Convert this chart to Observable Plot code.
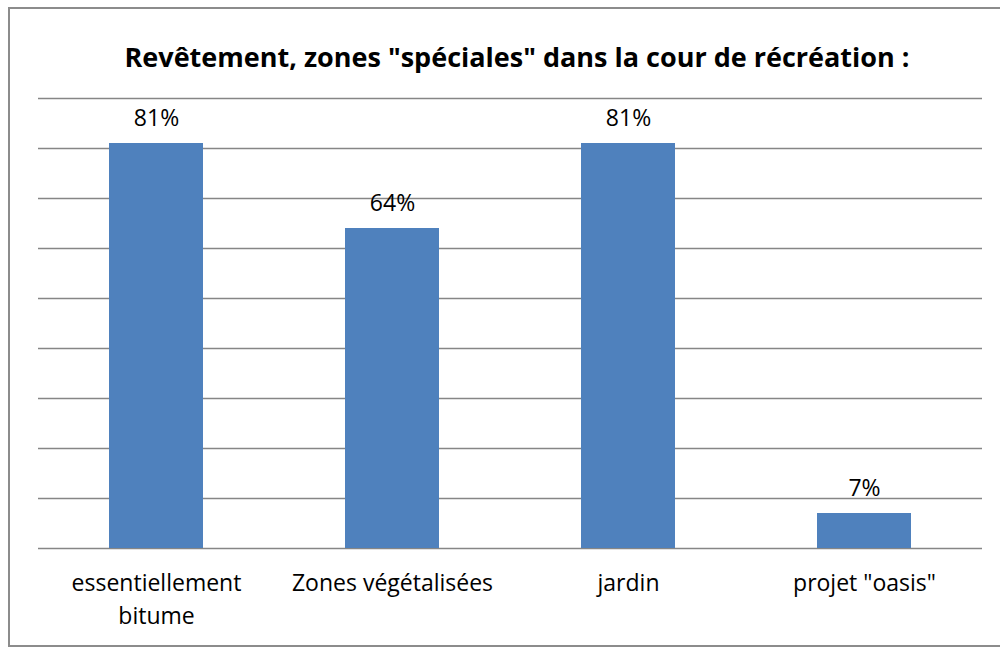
<!DOCTYPE html>
<html>
<head>
<meta charset="utf-8">
<script src="https://cdn.jsdelivr.net/npm/d3@7"></script>
<script src="https://cdn.jsdelivr.net/npm/@observablehq/plot@0.6"></script>
<style>
  html, body { margin: 0; padding: 0; background: #fff; }
  #wrap { position: relative; width: 1000px; height: 649px; overflow: hidden; font-family: "Open Sans", Lato, sans-serif; }
  #frame { position: absolute; left: 8px; top: 7px; width: 1000px; height: 640px; border-left: 2px solid #8c8c8c; border-top: 2px solid #8c8c8c; border-bottom: 2px solid #8c8c8c; box-sizing: border-box; }
  #title { position: absolute; left: 34px; width: 966px; top: 38px; text-align: center; font-weight: bold; font-size: 27px; color: #000; line-height: 37px; }
  #chart { position: absolute; left: 0; top: 0; }
</style>
</head>
<body>
<div id="wrap">
  <div id="frame"></div>
  <div id="title">Revêtement, zones "spéciales" dans la cour de récréation :</div>
  <div id="chart"></div>
</div>
<script>
const categories = ["essentiellement\nbitume", "Zones végétalisées", "jardin", "projet \"oasis\""];
const values = [0.81, 0.64, 0.81, 0.07];
const valueLabels = ["81%", "64%", "81%", "7%"];
const gridTicks = [0, 0.1, 0.2, 0.3, 0.4, 0.5, 0.6, 0.7, 0.8, 0.9];

const data = categories.map((c, i) => ({category: c, value: values[i], label: valueLabels[i]}));

const chart = Plot.plot({
  width: 1000,
  height: 649,
  marginLeft: 38,
  marginRight: 18,
  marginTop: 98,
  marginBottom: 101,
  style: {fontFamily: "'Open Sans', Lato, sans-serif", background: "transparent"},
  x: {domain: categories, paddingInner: 0.6, paddingOuter: 0.3, axis: null},
  y: {domain: [0, 0.9], axis: null},
  marks: [
    Plot.ruleY(gridTicks, {stroke: "#868686", strokeWidth: 1.3}),
    Plot.barY(data, {x: "category", y: "value", fill: "#4F81BD"}),
    Plot.text(data, {x: "category", y: "value", text: "label", dy: -25, fontSize: 23, fill: "#000"}),
    Plot.text(data, {x: "category", y: 0, text: "category", lineAnchor: "top", dy: 20, fontSize: 23, lineHeight: 1.4, fill: "#000"})
  ]
});
document.getElementById("chart").appendChild(chart);
</script>
</body>
</html>
